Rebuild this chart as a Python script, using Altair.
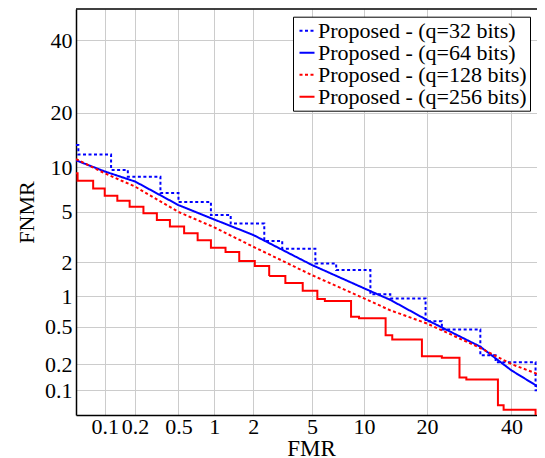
import altair as alt
import pandas as pd
from statistics import NormalDist

# ---- data (percent) ----
labels = ["Proposed - (q=32 bits)", "Proposed - (q=64 bits)",
          "Proposed - (q=128 bits)", "Proposed - (q=256 bits)"]
colors = ["#0000ff", "#0000ff", "#ff0000", "#ff0000"]
dashes = [[3, 2.5], [1, 0], [3, 2.5], [1, 0]]

fmr_32 = [0.05, 0.053, 0.116, 0.17, 0.345, 0.50, 0.94, 1.35, 2.4, 3.2, 5.25, 7.0,
          10.8, 13.6, 19.7, 23.0, 31.9, 35.8, 46.6, 50]
fnmr_32 = [13.5, 11.9, 9.6, 8.7, 6.8, 5.9, 4.75, 4.1, 3.0, 2.6, 1.96, 1.72,
           1.04, 0.95, 0.57, 0.47, 0.25, 0.21, 0.10, 0.10]

fmr_64 = [0.05, 0.1, 0.2, 0.5, 1, 2, 5, 10, 13.6, 20, 31.9, 40, 46.6, 50]
fnmr_64 = [11.0, 9.4, 8.1, 5.6, 4.4, 3.35, 1.9, 1.18, 0.92, 0.585, 0.31, 0.17, 0.115, 0.087]

fmr_128 = [0.05, 0.1, 0.2, 0.5, 1, 2, 5, 10, 13.6, 20, 31.9, 40, 50]
fnmr_128 = [11.2, 9.15, 7.5, 5.0, 3.84, 2.7, 1.55, 0.95, 0.73, 0.54, 0.30, 0.20, 0.14]

fmr_256 = [0.05, 0.052, 0.076, 0.1, 0.134, 0.177, 0.24, 0.32, 0.42, 0.56, 0.73, 0.94,
           1.23, 1.57, 2.05, 2.6, 3.36, 4.37, 5.4, 6.0, 8.5, 9.4, 12.9, 13.9, 19.0,
           23.0, 26.9, 28.5, 36.4, 37.9, 46.6]
fnmr_256 = [9.15, 8.2, 7.3, 6.5, 6.0, 5.45, 4.9, 4.36, 3.9, 3.45, 3.05, 2.65,
            2.45, 2.06, 1.86, 1.52, 1.32, 1.12, 0.94, 0.90, 0.63, 0.61, 0.41, 0.37, 0.245,
            0.235, 0.141, 0.134, 0.066, 0.058, 0.04]

ticks = [0.1, 0.2, 0.5, 1, 2, 5, 10, 20, 40]
x_range = [0.05, 47]   # visible part of the FMR axis (percent)
y_range = [0.05, 50]

series = [(labels[0], fmr_32, fnmr_32, "step-after"),
          (labels[1], fmr_64, fnmr_64, "linear"),
          (labels[2], fmr_128, fnmr_128, "linear"),
          (labels[3], fmr_256, fnmr_256, "step-after")]

rows = []
for name, xs, ys, _ in series:
    for i, (a, b) in enumerate(zip(xs, ys)):
        rows.append({"series": name, "fmr": a, "fnmr": b, "idx": i})
df = pd.DataFrame(rows)

nd = NormalDist()
tick_pos = [nd.inv_cdf(t / 100) for t in ticks]
xdom = [nd.inv_cdf(v / 100) for v in x_range]
ydom = [nd.inv_cdf(v / 100) for v in y_range]

W, H = 461, 406
FONT = "Liberation Serif"
label_expr = "format(cumulativeNormal(datum.value) * 100, '.2~r')"

xaxis = alt.Axis(values=tick_pos, labelExpr=label_expr, grid=True, ticks=False,
                 labelPadding=1, labelOverlap=False, labelFlush=False,
                 labelFont=FONT, labelFontSize=22, labelColor="black",
                 title="FMR", titleFont=FONT, titleFontSize=23, titleFontWeight="normal",
                 titleColor="black", titleBaseline="alphabetic", titleX=235, titleY=40,
                 domainColor="black", domainWidth=1.5, gridColor="#cccccc", gridWidth=1)
yaxis = alt.Axis(values=tick_pos, labelExpr=label_expr, grid=True, ticks=False,
                 labelPadding=4, labelOverlap=False, labelFlush=False,
                 labelFont=FONT, labelFontSize=22, labelColor="black",
                 title="FNMR", titleFont=FONT, titleFontSize=22, titleFontWeight="normal",
                 titleColor="black", titleAngle=270, titleAlign="center",
                 titleBaseline="alphabetic", titleX=-43, titleY=203,
                 domainColor="black", domainWidth=1.5, gridColor="#cccccc", gridWidth=1)

base = alt.Chart(df).transform_calculate(
    px="quantileNormal(datum.fmr / 100)",
    py="quantileNormal(datum.fnmr / 100)",
)

layers = []
for name, _, _, interp in series:
    layers.append(
        base.transform_filter(alt.datum.series == name)
        .mark_line(interpolate=interp, strokeWidth=2, clip=True)
        .encode(
            x=alt.X("px:Q", scale=alt.Scale(domain=xdom, nice=False, zero=False), axis=xaxis),
            y=alt.Y("py:Q", scale=alt.Scale(domain=ydom, nice=False, zero=False), axis=yaxis),
            color=alt.Color("series:N", scale=alt.Scale(domain=labels, range=colors),
                            legend=alt.Legend(title=None)),
            strokeDash=alt.StrokeDash("series:N", scale=alt.Scale(domain=labels, range=dashes),
                                      legend=alt.Legend(title=None)),
            order=alt.Order("idx:Q"),
        )
    )

top_border = alt.Chart(pd.DataFrame({"k": [0]})).mark_rule(
    color="black", strokeWidth=1.5
).encode(x=alt.value(0), x2=alt.value(W), y=alt.value(0))

chart = alt.layer(*layers, top_border).properties(
    width=W, height=H,
    autosize=alt.AutoSizeParams(type="none"),
    padding={"left": 68, "top": 1, "right": 0, "bottom": 43},
).configure_view(
    strokeWidth=0
).configure_legend(
    orient="none", legendX=217, legendY=7.7,
    labelFont=FONT, labelFontSize=22, labelColor="black", labelLimit=400,
    symbolType="stroke", symbolSize=225, symbolStrokeWidth=2,
    strokeColor="black", fillColor="white", padding=3, rowPadding=0,
    labelOffset=0, cornerRadius=0,
)

chart.save("out.html", embed_options={"renderer": "svg", "actions": False})
